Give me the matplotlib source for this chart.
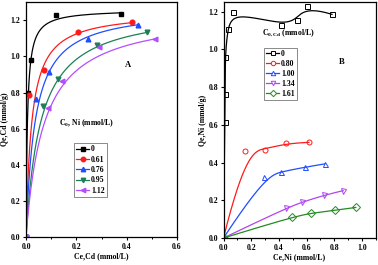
import numpy as np
import matplotlib
matplotlib.use("Agg")
import matplotlib.pyplot as plt
from matplotlib.lines import Line2D
from matplotlib.ticker import MultipleLocator

plt.rcParams['font.family'] = ['Liberation Serif', 'DejaVu Serif']
plt.rcParams['font.weight'] = 'bold'
plt.rcParams['mathtext.fontset'] = 'custom'
plt.rcParams['mathtext.rm'] = 'Liberation Serif:bold'
plt.rcParams['mathtext.it'] = 'Liberation Serif:bold'
plt.rcParams['mathtext.bf'] = 'Liberation Serif:bold'

FS = 5.6

# ---- panel A: Cd uptake at different initial Ni (Langmuir fits) ----
a_labels = ["0", "0.61", "0.76", "0.95", "1.12"]
a_colors = ["black", "#ff1a1a", "#1f4dff", "#1b8055", "#b44dff"]
a_markers = ["s", "o", "^", "v", "<"]
a_ce = [
    [0, 0.009, 0.020, 0.118, 0.378],
    [0, 0.013, 0.073, 0.206, 0.421],
    [0, 0.039, 0.091, 0.248, 0.444],
    [0, 0.069, 0.128, 0.281, 0.480],
    [0, 0.089, 0.142, 0.292, 0.513],
]
a_qe = [
    [0, 0.800, 0.980, 1.228, 1.236],
    [0, 0.786, 0.926, 1.138, 1.193],
    [0, 0.764, 0.912, 1.096, 1.173],
    [0, 0.728, 0.875, 1.065, 1.133],
    [0, 0.714, 0.862, 1.050, 1.098],
]
# Langmuir parameters of the fitted lines
a_qm = [1.26, 1.25, 1.27, 1.27, 1.25]
a_kl = [180, 45, 28, 17.2, 14]

# ---- panel B: Ni uptake at different initial Cd (spline lines) ----
b_labels = ["0", "0.80", "1.00", "1.34", "1.61"]
b_colors = ["black", "#ff1a1a", "#1f4dff", "#b044f0", "#228b22"]
b_markers = ["s", "o", "^", "v", "D"]
b_ce = [
    [0, 0.010, 0.012, 0.012, 0.029, 0.072, 0.418, 0.530, 0.600, 0.784],
    [0, 0.156, 0.301, 0.454, 0.617],
    [0, 0.292, 0.414, 0.586, 0.731],
    [0, 0.454, 0.569, 0.729, 0.865],
    [0, 0.497, 0.634, 0.803, 0.956],
]
b_qe = [
    [0, 0.615, 0.766, 0.958, 1.109, 1.198, 1.132, 1.156, 1.228, 1.186],
    [0, 0.459, 0.468, 0.503, 0.507],
    [0, 0.325, 0.352, 0.375, 0.393],
    [0, 0.160, 0.190, 0.228, 0.251],
    [0, 0.112, 0.133, 0.146, 0.162],
]


def bspline(xs, ys, num=300, k=3):
    P = np.column_stack([xs, ys])
    n = len(P)
    k = min(k, n - 1)
    t = np.concatenate([[0] * k, np.linspace(0, 1, n - k + 1), [1] * k])
    u = np.linspace(0, 1, num)
    N = np.zeros((num, len(t) - 1))
    for i in range(len(t) - 1):
        N[:, i] = (t[i] <= u) & (u < t[i + 1])
    N[-1, :] = 0
    N[-1, n - 1] = 1
    for d in range(1, k + 1):
        Nn = np.zeros((num, len(t) - 1 - d))
        for i in range(len(t) - 1 - d):
            if t[i + d] > t[i]:
                Nn[:, i] += (u - t[i]) / (t[i + d] - t[i]) * N[:, i]
            if t[i + d + 1] > t[i + 1]:
                Nn[:, i] += (t[i + d + 1] - u) / (t[i + d + 1] - t[i + 1]) * N[:, i + 1]
        N = Nn
    return N @ P


def style(ax):
    for s in ax.spines.values():
        s.set_linewidth(0.9)
    ax.tick_params(which='major', direction='out', length=2.5, width=0.8,
                   labelsize=FS, pad=1.5)
    ax.tick_params(which='minor', direction='out', length=1.5, width=0.7)


fig = plt.figure(figsize=(3.78, 2.65), dpi=100)

axA = fig.add_axes([26 / 378, 28 / 265, 151 / 378, 234.7 / 265])
for ce, qe, qm, kl, c, m, lab in zip(a_ce, a_qe, a_qm, a_kl, a_colors, a_markers, a_labels):
    xx = np.linspace(0, ce[-1], 400)
    axA.plot(xx, qm * kl * xx / (1 + kl * xx), color=c, lw=0.9)
    axA.plot(ce, qe, ls='none', marker=m, color=c, ms=3.4, mec=c)
axA.set_xlim(0, 0.6)
axA.set_ylim(0, 1.3)
axA.xaxis.set_major_locator(MultipleLocator(0.2))
axA.xaxis.set_minor_locator(MultipleLocator(0.1))
axA.yaxis.set_major_locator(MultipleLocator(0.2))
style(axA)
axA.set_xlabel("Ce,Cd (mmol/L)", fontsize=FS, fontweight='bold', labelpad=1)
axA.set_ylabel("Qe,Cd (mmol/g)", fontsize=FS, fontweight='bold', labelpad=1)
axA.text(0.673, 0.733, "A", transform=axA.transAxes, fontsize=FS + 0.5, ha='center', va='center')
axA.text(0.402, 0.487, r"C$_0$, Ni (mmol/L)", transform=axA.transAxes, fontsize=FS,
         ha='center', va='center')
hA = [Line2D([], [], color=c, marker=m, ms=3.2, lw=0.9) for c, m in zip(a_colors, a_markers)]
legA = axA.legend(hA, a_labels, loc='upper left', bbox_to_anchor=(0.318, 0.40), fontsize=FS,
                  frameon=True, fancybox=False, edgecolor='#555555', handlelength=1.6,
                  handletextpad=0.3, borderpad=0.3, labelspacing=0.3, borderaxespad=0)
legA.get_frame().set_linewidth(0.6)

axB = fig.add_axes([223.5 / 378, 27 / 265, 152.2 / 378, 235.7 / 265])
for ce, qe, c, m in zip(b_ce, b_qe, b_colors, b_markers):
    curve = bspline(ce, qe)
    axB.plot(curve[:, 0], curve[:, 1], color=c, lw=0.9)
    axB.plot(ce, qe, ls='none', marker=m, ms=3.6, mfc='none', mec=c, mew=0.7)
axB.set_xlim(0, 1.1)
axB.set_ylim(0, 1.25)
axB.xaxis.set_major_locator(MultipleLocator(0.2))
axB.xaxis.set_minor_locator(MultipleLocator(0.1))
axB.yaxis.set_major_locator(MultipleLocator(0.2))
style(axB)
axB.set_xlabel("Ce,Ni (mmol/L)", fontsize=FS, fontweight='bold', labelpad=1)
axB.set_ylabel("Qe,Ni (mmol/g)", fontsize=FS, fontweight='bold', labelpad=1)
axB.text(0.777, 0.747, "B", transform=axB.transAxes, fontsize=FS + 0.5, ha='center', va='center')
axB.text(0.424, 0.868, r"C$_{\mathrm{0,Cd}}$ (mmol/L)", transform=axB.transAxes, fontsize=FS,
         ha='center', va='center')
hB = [Line2D([], [], color=c, marker=m, ms=3.2, lw=0.9, mfc='white', mec=c, mew=0.7)
      for c, m in zip(b_colors, b_markers)]
legB = axB.legend(hB, b_labels, loc='upper left', bbox_to_anchor=(0.266, 0.807), fontsize=FS,
                  frameon=True, fancybox=False, edgecolor='#555555', handlelength=1.6,
                  handletextpad=0.3, borderpad=0.3, labelspacing=0.25, borderaxespad=0)
legB.get_frame().set_linewidth(0.6)

fig.savefig("out.png", dpi=100)
